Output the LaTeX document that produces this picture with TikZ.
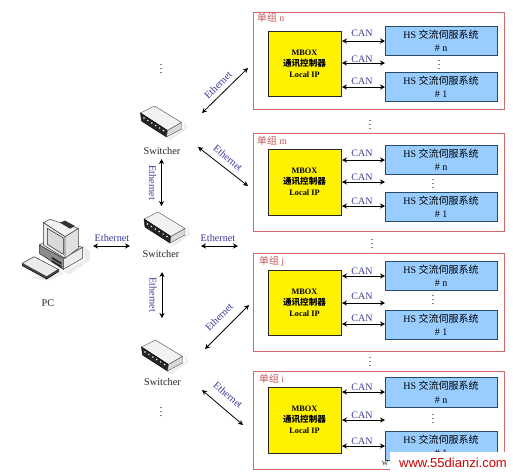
\documentclass[tikz,border=0pt]{standalone}
\usepackage{fontspec}
\setmainfont{Liberation Serif}
\newfontfamily\cjk{Noto Sans CJK SC}
\newfontfamily\wmfont{Liberation Sans}
\usetikzlibrary{arrows.meta}
\definecolor{framered}{HTML}{D46A6A}
\definecolor{titlered}{HTML}{C85858}
\definecolor{hsblue}{HTML}{99CCFF}
\definecolor{hsline}{HTML}{2A4A6A}
\definecolor{linkblue}{HTML}{3A3A9A}
\tikzset{
  pxbox/.style={inner sep=0pt,outer sep=0pt,align=center},
  framebox/.style={pxbox,draw=framered,line width=1pt},
  mboxbox/.style={pxbox,draw=black!85,line width=.8pt,fill=yellow,font=\fontsize{8.3}{11}\selectfont\bfseries},
  hsbox/.style={pxbox,draw=hsline,line width=.9pt,fill=hsblue,font=\fontsize{10}{13.5}\selectfont},
  biarrow/.style={{Stealth[length=5pt,width=5pt]}-{Stealth[length=5pt,width=5pt]},line width=.8pt,black},
  netlabel/.style={text=linkblue,font=\fontsize{10.2}{11}\selectfont,inner sep=0pt},
  canlabel/.style={text=linkblue,font=\fontsize{10}{11}\selectfont,inner sep=0pt},
  titlelabel/.style={text=titlered,font=\fontsize{9.8}{11}\selectfont,inner sep=0pt,anchor=west},
  dotslabel/.style={inner sep=0pt,font=\fontsize{10}{10}\selectfont},
  devlabel/.style={inner sep=0pt,font=\fontsize{10.3}{11}\selectfont,text=black!85},
}
\newcommand{\boxnode}[7]{%
  \pgfmathsetmacro{\bcx}{(#3+#5)/2}\pgfmathsetmacro{\bcy}{(#4+#6)/2}%
  \pgfmathsetmacro{\bw}{#5-#3}\pgfmathsetmacro{\bh}{#6-#4}%
  \node[#2,minimum width=\bw pt,minimum height=\bh pt] (#1) at (\bcx,\bcy) {#7};}
\newcommand{\mboxtext}{MBOX\\{\cjk\fontsize{8.6}{11}\selectfont 通讯控制器}\\Local IP}
\newcommand{\hstext}[1]{HS {\cjk 交流伺服系统}\\\# #1}
\newcommand{\canlink}[3]{%
  \coordinate (#1L) at (342,#2); \coordinate (#1R) at (385,#2);
  \draw[biarrow] (#1L) -- (#1R);
  \node[canlabel] (#1T) at (362,#3) {CAN};}
\newcommand{\switcher}[5]{%
  \begin{scope}[shift={(#2,#3)}]
    \fill[black!7] (26,33) -- (44,22) -- (43,14) -- (47,22) -- (30,34) -- cycle;
    \filldraw[fill=black!5,draw=black!70,line width=.4pt] (0,7) -- (14,0) -- (41,16.5) -- (27,24.5) -- cycle;
    \filldraw[fill=black!85,draw=black] (0,7) -- (27,24.5) -- (26,31) -- (1,15) -- cycle;
    \filldraw[fill=black!15,draw=black!70,line width=.4pt] (27,24.5) -- (41,16.5) -- (41,23) -- (26,31) -- cycle;
    \foreach \i in {0,1,2,3,4,5} \fill[white] (3.5+\i*3.9,12+\i*2.5) circle (.8);
  \end{scope}
  \coordinate (#1) at (#4,#5);
  \node[devlabel] (#1T) at (#4,#5) {Switcher};}
\begin{document}
\begin{tikzpicture}[x=1pt,y=-1pt]
\fill[white] (0,0) rectangle (513,475);
\useasboundingbox (0,0) rectangle (513,475);

% group n
\boxnode{Fn}{framebox}{253}{12}{504.5}{109}{}
\node[titlelabel] (Tn) at (257,18) {{\cjk 单组} n};
\boxnode{Mn}{mboxbox}{268}{31}{341}{96}{\mboxtext}
\boxnode{Hna}{hsbox}{385}{26}{497}{55}{\hstext{n}}
\boxnode{Hnb}{hsbox}{385}{72}{497}{101}{\hstext{1}}
\canlink{na}{41}{33.5}\canlink{nb}{63}{59}\canlink{nc}{87}{81.5}
\node[dotslabel] (Dn) at (439,62) {$\vdots$};

% group m
\boxnode{Fm}{framebox}{253}{133}{504.5}{231}{}
\node[titlelabel] (Tm) at (257,141) {{\cjk 单组} m};
\boxnode{Mm}{mboxbox}{268}{149}{341}{215}{\mboxtext}
\boxnode{Hma}{hsbox}{385}{145}{497}{174}{\hstext{n}}
\boxnode{Hmb}{hsbox}{385}{192}{497}{221}{\hstext{1}}
\canlink{ma}{160}{153}\canlink{mb}{182}{177}\canlink{mc}{206}{201}
\node[dotslabel] (Dm) at (433,181) {$\vdots$};

% group j
\boxnode{Fj}{framebox}{253}{253}{504.5}{351}{}
\node[titlelabel] (Tj) at (259,261) {{\cjk 单组} j};
\boxnode{Mj}{mboxbox}{268}{270}{341}{335}{\mboxtext}
\boxnode{Hja}{hsbox}{385}{261}{497}{290}{\hstext{n}}
\boxnode{Hjb}{hsbox}{385}{310}{497}{339}{\hstext{1}}
\canlink{ja}{276}{271}\canlink{jb}{303}{296}\canlink{jc}{324}{318}
\node[dotslabel] (Dj) at (433,297) {$\vdots$};

% group i
\boxnode{Fi}{framebox}{253}{371}{504.5}{469}{}
\node[titlelabel] (Ti) at (259,379) {{\cjk 单组} i};
\boxnode{Mi}{mboxbox}{268}{387}{341}{453}{\mboxtext}
\boxnode{Hia}{hsbox}{385}{377}{497}{407}{\hstext{n}}
\boxnode{Hib}{hsbox}{385}{431}{497}{460}{\hstext{1}}
\canlink{ia}{392}{387}\canlink{ib}{420}{415}\canlink{ic}{446}{441}
\node[dotslabel] (Di) at (433,416) {$\vdots$};

% dots between groups and switches
\node[dotslabel] (D1) at (370,122) {$\vdots$};
\node[dotslabel] (D2) at (372,241) {$\vdots$};
\node[dotslabel] (D3) at (370,359) {$\vdots$};
\node[dotslabel] (D4) at (161,66) {$\vdots$};
\node[dotslabel] (D5) at (161,409) {$\vdots$};

% switches
\switcher{SwA}{140.5}{106}{162}{151}
\switcher{SwB}{144}{212}{161}{253.5}
\switcher{SwC}{141.5}{340}{162.5}{382}

% PC
\begin{scope}[shift={(10,210)},x=.3333pt,y=-.3333pt]
  \fill[black!8] (160,185) -- (225,150) -- (218,105) -- (240,125) -- (240,150) -- (180,192) -- cycle;
  \fill[black!7] (60,205) -- (115,212) -- (160,192) -- (150,175) -- cycle;
  \filldraw[fill=black!5,draw=black!75,line width=.5pt] (88,105) -- (125,85) -- (218,112) -- (160,145) -- cycle;
  \filldraw[fill=black!45,draw=black!80,line width=.5pt] (88,105) -- (160,145) -- (160,178) -- (88,130) -- cycle;
  \filldraw[fill=black!8,draw=black!75,line width=.5pt] (160,145) -- (218,112) -- (218,145) -- (160,178) -- cycle;
  \fill[black!85] (125,140) -- (155,158) -- (155,164) -- (125,146) -- cycle;
  \fill[black!85] (125,150) -- (155,168) -- (155,174) -- (125,156) -- cycle;
  \filldraw[fill=black!12,draw=black!75,line width=.5pt] (165,80) -- (205,55) -- (205,115) -- (165,145) -- cycle;
  \filldraw[fill=black!5,draw=black!75,line width=.5pt] (100,38) -- (120,28) -- (205,55) -- (165,80) -- cycle;
  \fill[black!80] (150,38) -- (165,32) -- (195,48) -- (180,56) -- cycle;
  \filldraw[fill=black!8,draw=black!80,line width=.5pt] (100,38) -- (165,80) -- (165,145) -- (100,105) -- cycle;
  \filldraw[fill=black!15,draw=black!85,line width=.5pt] (112,55) -- (160,84) -- (160,133) -- (112,103) -- cycle;
  \filldraw[fill=black!70,draw=black,line width=.5pt] (37,160) -- (110,200) -- (110,207) -- (37,167) -- cycle;
  \filldraw[fill=black!70,draw=black,line width=.5pt] (110,200) -- (145,178) -- (145,185) -- (110,207) -- cycle;
  \filldraw[fill=black!8,draw=black!80,line width=.5pt] (37,160) -- (72,140) -- (145,178) -- (110,200) -- cycle;
\end{scope}
\coordinate (PC) at (48,303);
\node[devlabel] (PCT) at (PC) {PC};

% Ethernet links
\coordinate (ea) at (93,246); \coordinate (eb) at (130,246);
\draw[biarrow] (ea) -- (eb);
\node[netlabel] (ela) at (112,238) {Ethernet};
\coordinate (ec) at (201,246); \coordinate (ed) at (238,246);
\draw[biarrow] (ec) -- (ed);
\node[netlabel] (elb) at (218,238) {Ethernet};

\coordinate (ee) at (161.5,159); \coordinate (ef) at (161.5,206);
\draw[biarrow] (ee) -- (ef);
\node[netlabel,rotate=-90] (elc) at (152.5,183) {Ethernet};
\coordinate (eg) at (162,272); \coordinate (eh) at (162,318);
\draw[biarrow] (eg) -- (eh);
\node[netlabel,rotate=-90] (eld) at (153,295) {Ethernet};

\coordinate (ei) at (202,113); \coordinate (ej) at (248,68);
\draw[biarrow] (ei) -- (ej);
\node[netlabel,rotate=45] (ele) at (218,85) {Ethernet};
\coordinate (ek) at (198,147); \coordinate (el) at (248,186);
\draw[biarrow] (ek) -- (el);
\node[netlabel,rotate=-40] (elf) at (228,158) {Ethernet};
\coordinate (em) at (205,349); \coordinate (en) at (249,305);
\draw[biarrow] (em) -- (en);
\node[netlabel,rotate=45] (elg) at (219,317) {Ethernet};
\coordinate (eo) at (202,390); \coordinate (ep) at (243,425);
\draw[biarrow] (eo) -- (ep);
\node[netlabel,rotate=-40] (elh) at (228,395) {Ethernet};

% watermark
\fill[white] (390,452) rectangle (513,475);
\node[inner sep=0pt,font=\fontsize{9}{10}\selectfont,text=black!80] (wmw) at (385,463.5) {w};
\node[inner sep=0pt,font=\wmfont\fontsize{13}{14}\selectfont,text=red!80!black] (wm) at (453,463) {www.55dianzi.com};
\end{tikzpicture}
\end{document}
